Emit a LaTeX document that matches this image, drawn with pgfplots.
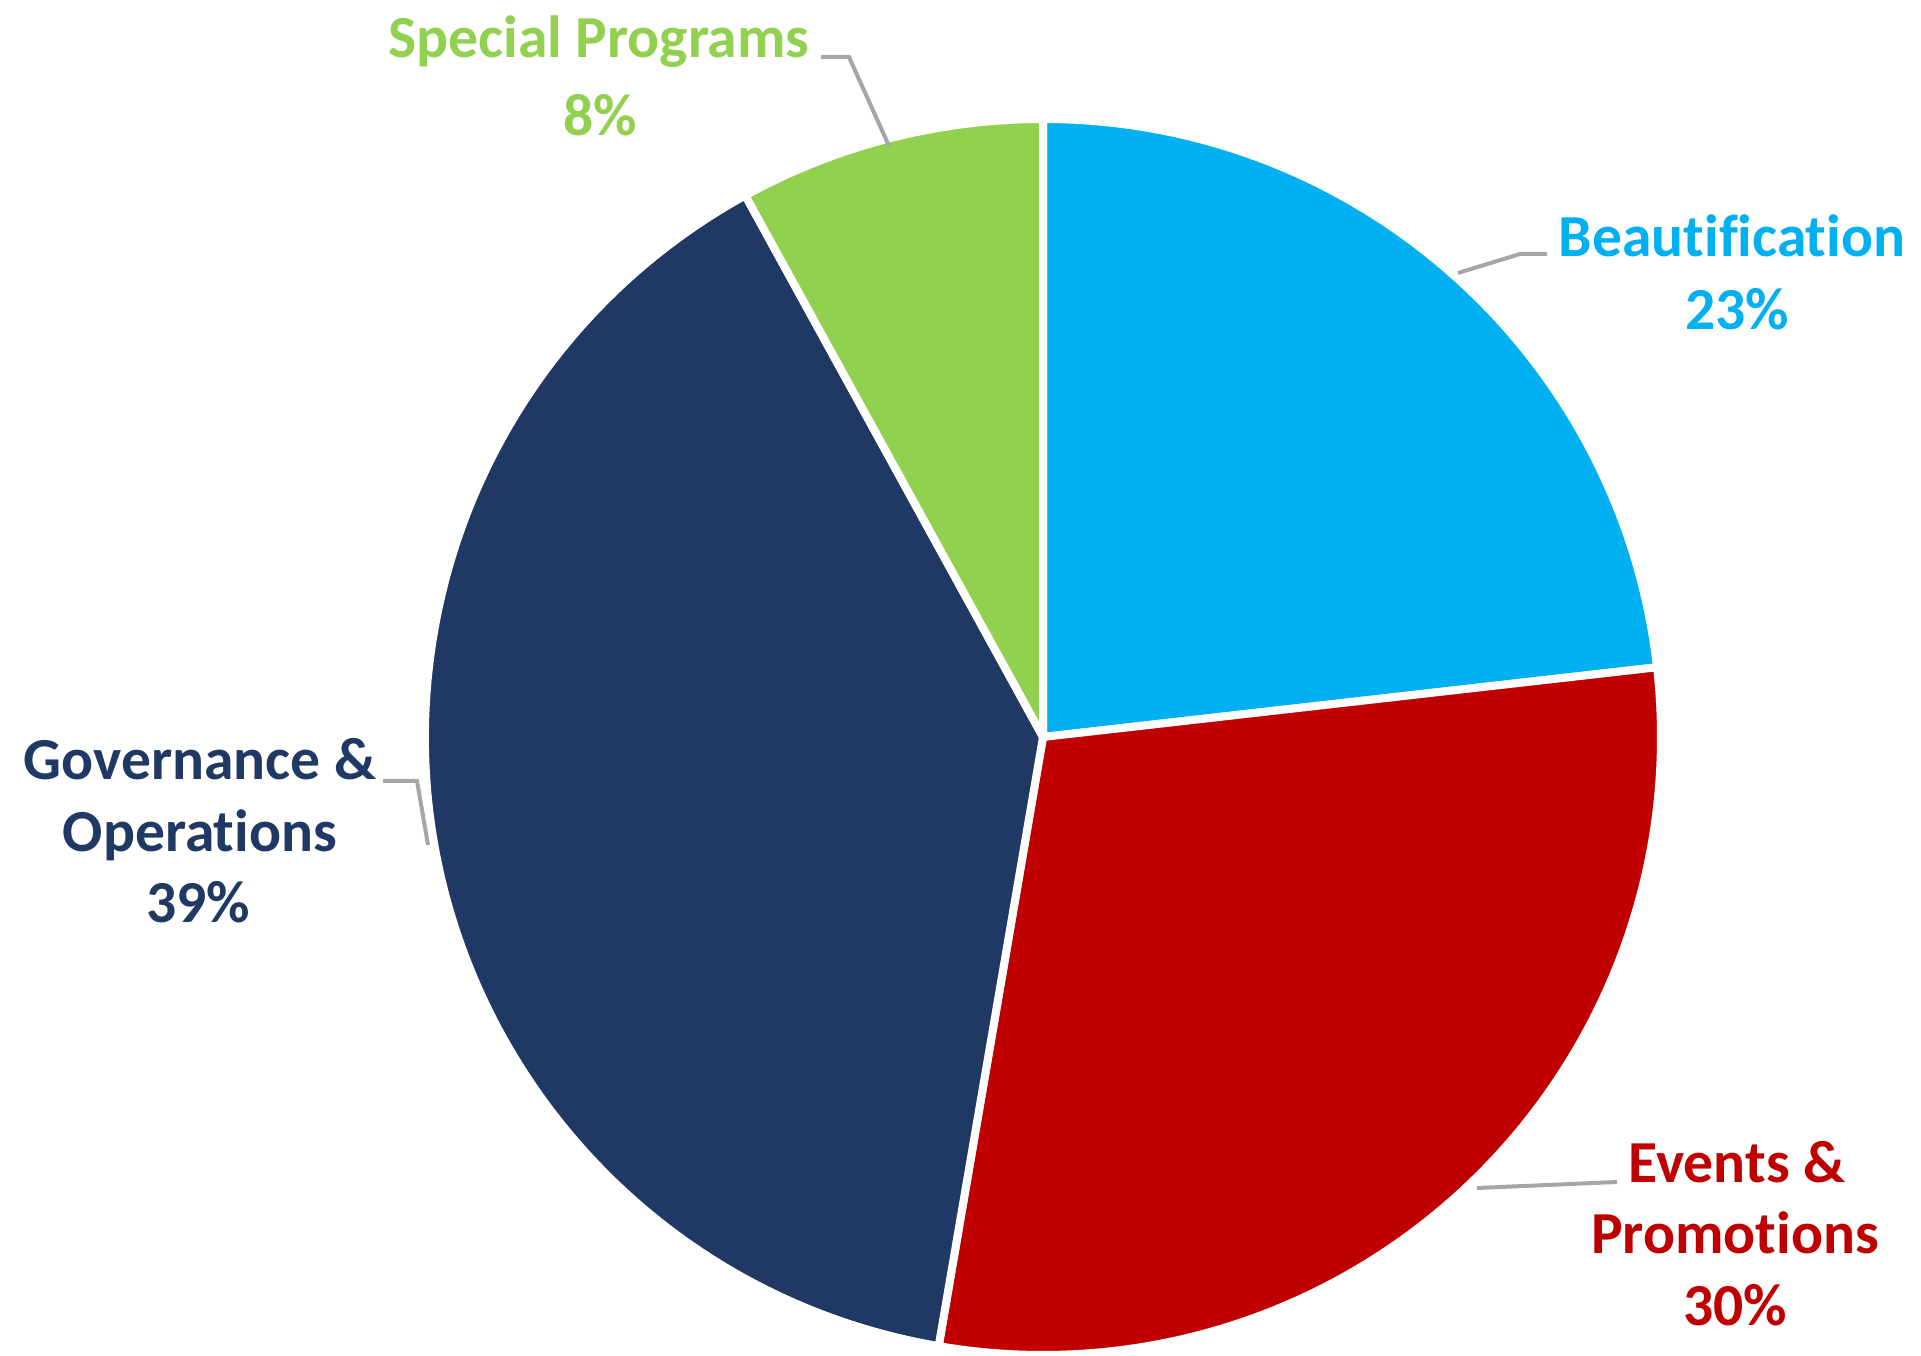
\documentclass[border=0pt]{standalone}
\usepackage{fontspec}
\setmainfont{Carlito}[Ligatures={NoCommon}]
\usepackage{pgfplots}
\pgfplotsset{compat=1.18}
\definecolor{cBeau}{HTML}{00B0F0}
\definecolor{cEvent}{HTML}{C00000}
\definecolor{cGov}{HTML}{203864}
\definecolor{cSpec}{HTML}{92D050}
\definecolor{cLead}{HTML}{A6A6A6}
% slice values (percent), clockwise from 12 o'clock
\def\vBeau{23.2}
\def\vEvent{29.5}
\def\vGov{39.3}
\def\vSpec{8.0}
\pgfmathsetmacro{\aA}{90}
\pgfmathsetmacro{\aB}{\aA-3.6*\vBeau}
\pgfmathsetmacro{\aC}{\aB-3.6*\vEvent}
\pgfmathsetmacro{\aD}{\aC-3.6*\vGov}
\pgfmathsetmacro{\aE}{\aD-3.6*\vSpec}
\def\R{309pt}
\begin{document}
\begin{tikzpicture}
\begin{axis}[
  scale only axis, width=960.5pt, height=677.5pt,
  xmin=0, xmax=1921, ymin=0, ymax=1355,
  hide axis, clip=false,
]
\fill[cBeau, draw=white, line width=4pt, line join=round] (axis cs:1043,618) -- ++(\aA:\R) arc[start angle=\aA, end angle=\aB, radius=\R] -- cycle;
\fill[cEvent, draw=white, line width=4pt, line join=round] (axis cs:1043,618) -- ++(\aB:\R) arc[start angle=\aB, end angle=\aC, radius=\R] -- cycle;
\fill[cGov, draw=white, line width=4pt, line join=round] (axis cs:1043,618) -- ++(\aC:\R) arc[start angle=\aC, end angle=\aD, radius=\R] -- cycle;
\fill[cSpec, draw=white, line width=4pt, line join=round] (axis cs:1043,618) -- ++(\aD:\R) arc[start angle=\aD, end angle=\aE, radius=\R] -- cycle;
% leader lines
\draw[cLead, line width=2pt] (axis cs:821,1298) -- (axis cs:849,1298) -- (axis cs:889,1209);
\draw[cLead, line width=2pt] (axis cs:1547,1101) -- (axis cs:1520,1101) -- (axis cs:1458,1082);
\draw[cLead, line width=2pt] (axis cs:383,574) -- (axis cs:417,574) -- (axis cs:428,510);
\draw[cLead, line width=2pt] (axis cs:1617,173) -- (axis cs:1477,167);
% labels
\tikzset{lbl/.style={anchor=base, inner sep=0pt, font=\fontsize{29.8}{36}\selectfont\bfseries}}
\node[lbl, text=cSpec] at (axis cs:599,1297) {Special Programs};
\node[lbl, text=cSpec] at (axis cs:600,1219) {8\%};
\node[lbl, text=cBeau] at (axis cs:1732,1098) {Beautification};
\node[lbl, text=cBeau] at (axis cs:1737,1025) {23\%};
\node[lbl, text=cGov] at (axis cs:200,575) {Governance \&};
\node[lbl, text=cGov] at (axis cs:200,503) {Operations};
\node[lbl, text=cGov] at (axis cs:198,432) {39\%};
\node[lbl, text=cEvent] at (axis cs:1737,173) {Events \&};
\node[lbl, text=cEvent] at (axis cs:1735,102) {Promotions};
\node[lbl, text=cEvent] at (axis cs:1735,30) {30\%};
\end{axis}
\pgfresetboundingbox
\path (current axis.south west) rectangle (current axis.north east);
\end{tikzpicture}
\end{document}
